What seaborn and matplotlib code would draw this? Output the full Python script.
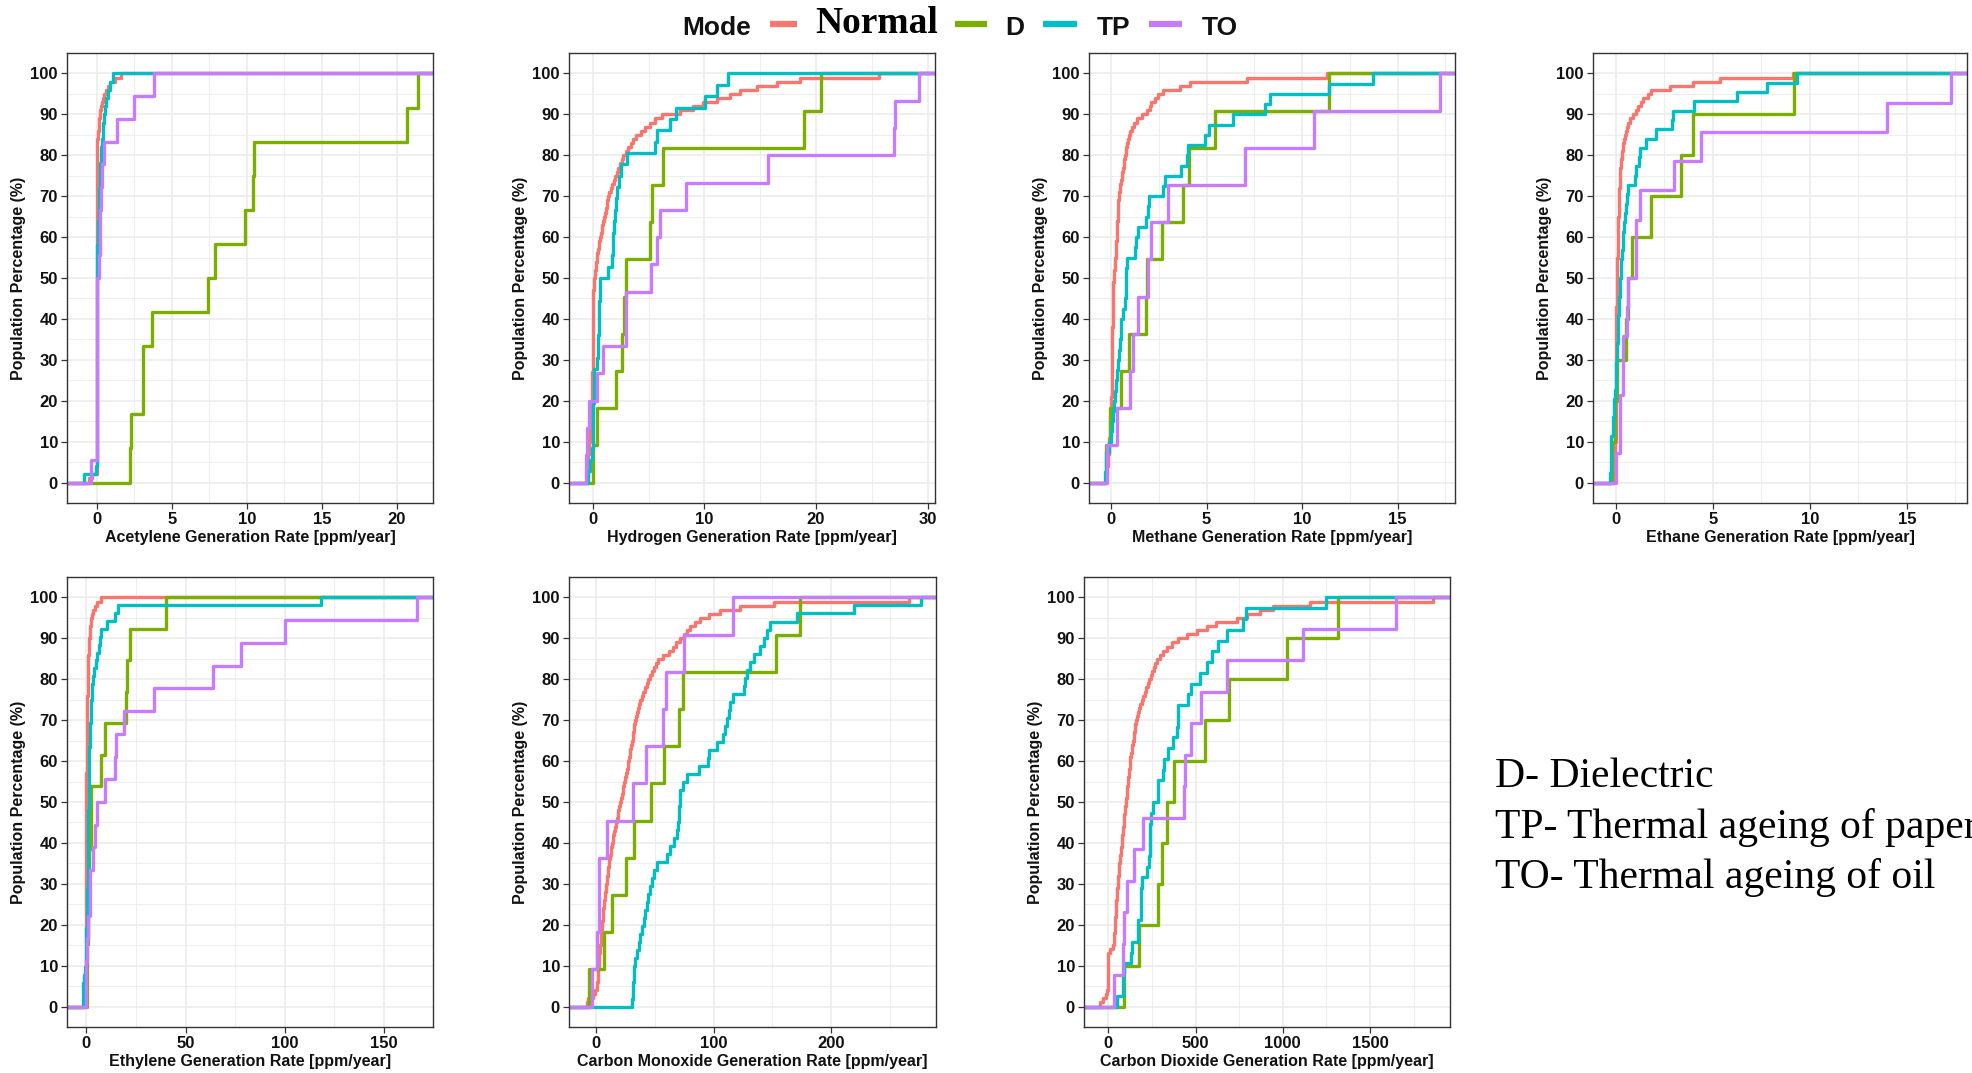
import numpy as np
import pandas as pd
import matplotlib
matplotlib.use("Agg")
import matplotlib.pyplot as plt
import seaborn as sns
from matplotlib.ticker import MultipleLocator, AutoMinorLocator
from matplotlib.lines import Line2D

# ---------------- data ----------------
modes = ["Normal", "D", "TP", "TO"]
mode_colors = ["#F8766D", "#7CAE00", "#00BFC4", "#C77CFF"]

gas_labels = [
    "Acetylene Generation Rate [ppm/year]",
    "Hydrogen Generation Rate [ppm/year]",
    "Methane Generation Rate [ppm/year]",
    "Ethane Generation Rate [ppm/year]",
    "Ethylene Generation Rate [ppm/year]",
    "Carbon Monoxide Generation Rate [ppm/year]",
    "Carbon Dioxide Generation Rate [ppm/year]",
]
x_tick_steps = [5, 10, 5, 5, 50, 100, 500]
x_limits = [(-1.98, 22.4), (-2.12, 30.65), (-1.15, 18.0), (-1.17, 18.1),
            (-9.7, 174.6), (-23.0, 289.0), (-139.0, 1958.0)]
y_ticks = [0, 10, 20, 30, 40, 50, 60, 70, 80, 90, 100]

# Acetylene
acetylene_normal = [-0.5, -0.3,
                    0.0, 0.0, 0.0, 0.0, 0.0, 0.0, 0.0, 0.0, 0.0, 0.0,
                    0.0, 0.0, 0.0, 0.0, 0.0, 0.0, 0.0, 0.0, 0.0, 0.0,
                    0.0, 0.0, 0.0, 0.0, 0.0, 0.0, 0.0, 0.0, 0.0, 0.0,
                    0.0, 0.0, 0.0, 0.0, 0.0, 0.0, 0.0, 0.0, 0.0, 0.0,
                    0.0, 0.0, 0.0, 0.0, 0.0, 0.0, 0.0, 0.0, 0.0, 0.0,
                    0.0, 0.0, 0.0, 0.0, 0.0, 0.0, 0.0, 0.0, 0.0, 0.0,
                    0.0, 0.0, 0.0, 0.0, 0.0, 0.0, 0.0, 0.0, 0.0, 0.0,
                    0.0, 0.0, 0.0, 0.0, 0.0, 0.0, 0.0, 0.0, 0.0, 0.0,
                    0.03, 0.05, 0.08, 0.1, 0.12, 0.15, 0.18, 0.2, 0.25, 0.3,
                    0.35, 0.4, 0.5, 0.6, 0.75, 0.9, 1.2, 1.6]
acetylene_d = [2.2, 2.3, 3.05, 3.05, 3.7, 7.4, 7.85, 9.9, 10.4, 10.5, 20.7, 21.4]
acetylene_tp = [-0.85, -0.05,
                0.0, 0.0, 0.0, 0.0, 0.0, 0.0, 0.0, 0.0, 0.0, 0.0,
                0.0, 0.0, 0.0, 0.0, 0.0, 0.0, 0.0, 0.0, 0.0, 0.0,
                0.0, 0.0, 0.0, 0.0, 0.0,
                0.03, 0.05, 0.06, 0.08, 0.1, 0.12, 0.14, 0.16, 0.18, 0.2,
                0.22, 0.25, 0.28, 0.3, 0.35, 0.4, 0.45, 0.5, 0.55, 0.65,
                0.75, 0.9, 1.1]
acetylene_to = [-0.35, 0.0, 0.0, 0.0, 0.0, 0.0, 0.0, 0.0, 0.0,
                0.15, 0.2, 0.22, 0.28, 0.38, 0.5, 1.33, 2.45, 3.8]

# Hydrogen
hydrogen_normal = [-0.55, -0.5, -0.48, -0.45, -0.42, -0.4, -0.38, -0.35, -0.33, -0.3,
                   -0.28, -0.26, -0.24, -0.22, -0.2, -0.18, -0.16, -0.14, -0.12, -0.1,
                   -0.09, -0.08, -0.06, -0.05, -0.04, -0.03, -0.02, 0.0,
                   0.05, 0.05, 0.05, 0.05, 0.05, 0.05, 0.05, 0.05, 0.05, 0.05,
                   0.05, 0.05, 0.05, 0.05, 0.05, 0.05, 0.05, 0.05, 0.05,
                   0.1, 0.13, 0.16, 0.2, 0.23, 0.27, 0.31, 0.36, 0.42, 0.48,
                   0.54, 0.6, 0.66, 0.73, 0.8, 0.86, 0.93, 1.0, 1.08, 1.16,
                   1.24, 1.32, 1.4, 1.5, 1.62, 1.74, 1.87, 2.0, 2.15, 2.3,
                   2.45, 2.6, 2.75, 2.95, 3.15, 3.4, 3.65, 3.9, 4.3, 4.7,
                   5.1, 5.6, 6.2, 7.8, 9.0, 9.9, 11.1, 12.3, 13.2, 14.7,
                   16.5, 18.6, 25.6]
hydrogen_d = [0.05, 0.35, 2.1, 2.6, 2.8, 3.0, 5.1, 5.3, 6.3, 18.9, 20.4]
hydrogen_tp = [-0.4, -0.2, -0.1, 0.0, 0.03, 0.05, 0.06, 0.08, 0.1, 0.12,
               0.4, 0.45, 0.5, 0.55, 0.58, 0.6, 0.63, 0.66, 1.4, 1.7,
               1.8, 1.85, 1.95, 2.0, 2.1, 2.2, 2.4, 2.5, 3.1, 5.6,
               5.8, 6.9, 7.5, 10.1, 11.1, 12.1]
hydrogen_to = [-0.6, -0.5, -0.3, 0.35, 0.9, 3.0, 3.0, 5.2, 5.8, 6.0,
               8.4, 15.7, 27.0, 27.05, 29.25]

# Methane
methane_normal = [-0.28, -0.25, -0.22, -0.2, -0.18, -0.16, -0.14, -0.12, -0.1, -0.09,
                  -0.08, -0.07, -0.06, -0.05, -0.04, -0.03, -0.02, -0.01, 0.0, 0.0,
                  0.02, 0.03, 0.03, 0.04, 0.04, 0.04, 0.05, 0.05, 0.05, 0.05,
                  0.06, 0.06, 0.06, 0.06, 0.07, 0.07, 0.07, 0.07, 0.08, 0.08,
                  0.08, 0.08, 0.09, 0.09, 0.09, 0.1, 0.11, 0.12, 0.13, 0.15,
                  0.16, 0.18, 0.19, 0.21, 0.22, 0.24, 0.25, 0.27, 0.28, 0.3,
                  0.31, 0.32, 0.33, 0.34, 0.35, 0.36, 0.37, 0.38, 0.39, 0.4,
                  0.43, 0.46, 0.49, 0.52, 0.56, 0.59, 0.62, 0.66, 0.7, 0.73,
                  0.77, 0.81, 0.85, 0.9, 0.96, 1.02, 1.08, 1.2, 1.34, 1.6,
                  1.87, 2.04, 2.1, 2.3, 2.48, 2.74, 3.6, 4.14, 7.1, 11.3]
methane_d = [-0.26, -0.05, 0.5, 0.96, 1.85, 1.9, 2.65, 3.75, 4.1, 5.45, 11.4]
methane_tp = [-0.3, -0.28, -0.25, -0.1, 0.0, 0.05, 0.1, 0.15, 0.2, 0.28,
              0.32, 0.36, 0.4, 0.45, 0.5, 0.55, 0.62, 0.72, 0.76, 0.78,
              0.8, 0.82, 1.25, 1.3, 1.42, 1.85, 1.92, 2.0, 2.7, 2.85,
              3.65, 4.0, 4.05, 4.9, 5.15, 6.4, 8.05, 8.3, 11.4, 13.7]
methane_to = [-0.2, 0.33, 1.0, 1.17, 1.43, 1.95, 2.08, 3.0, 7.0, 10.6, 17.2]

# Ethane
ethane_normal = [-0.14, -0.1, -0.08, -0.06, -0.05, -0.04, -0.03, -0.03, -0.02, -0.02,
                 -0.01, -0.01, 0.0, 0.0, 0.0, 0.0, 0.0, 0.0, 0.01, 0.01,
                 0.01, 0.01, 0.01, 0.02, 0.02, 0.02, 0.02, 0.02, 0.02, 0.02,
                 0.03, 0.03, 0.03, 0.03, 0.03, 0.03, 0.03, 0.03, 0.03, 0.03,
                 0.04, 0.04, 0.04, 0.05, 0.05, 0.05, 0.06, 0.06, 0.06, 0.07,
                 0.07, 0.08, 0.08, 0.09, 0.09, 0.1, 0.1, 0.11, 0.11, 0.12,
                 0.12, 0.13, 0.13, 0.14, 0.14, 0.15, 0.15, 0.16, 0.16, 0.17,
                 0.18, 0.19, 0.2, 0.21, 0.22, 0.23, 0.24, 0.26, 0.28, 0.3,
                 0.33, 0.36, 0.39, 0.42, 0.46, 0.52, 0.58, 0.64, 0.75, 0.9,
                 1.02, 1.15, 1.28, 1.41, 1.67, 1.84, 2.8, 4.0, 5.37, 9.15]
ethane_d = [-0.2, -0.05, 0.07, 0.52, 0.64, 0.86, 1.84, 3.36, 4.0, 9.2]
ethane_tp = [-0.27, -0.26, -0.25, -0.24, -0.23, -0.15, -0.12, -0.1, -0.08, -0.06,
             0.0, 0.02, 0.04, 0.06, 0.08, 0.1, 0.11, 0.12, 0.15, 0.18,
             0.2, 0.22, 0.25, 0.27, 0.3, 0.35, 0.4, 0.45, 0.5, 0.55,
             0.6, 0.64, 1.0, 1.03, 1.2, 1.24, 1.58, 2.1, 2.9, 2.93,
             4.05, 6.23, 7.8, 9.33]
ethane_to = [0.0, 0.2, 0.2, 0.38, 0.38, 0.58, 0.62, 1.03, 1.05, 1.24,
             3.0, 4.42, 14.0, 17.3]

# Ethylene
ethylene_normal = [-1.2, -1.0, -0.8, -0.7, -0.6, -0.5, -0.45, -0.4, -0.35, -0.3,
                   -0.28, -0.26, -0.24, -0.22, -0.2, -0.18, -0.16, -0.14, -0.12, -0.1,
                   -0.09, -0.08, -0.07, -0.06, -0.05, -0.05, -0.04, -0.04, -0.03, -0.03,
                   -0.02, -0.02, -0.01, -0.01, 0.0, 0.0, 0.0, 0.0, 0.0, 0.0,
                   0.0, 0.0, 0.0, 0.0, 0.0, 0.0, 0.01, 0.01, 0.02, 0.02,
                   0.03, 0.04, 0.05, 0.06, 0.07, 0.08, 0.1, 0.12, 0.14, 0.16,
                   0.18, 0.2, 0.22, 0.24, 0.26, 0.28, 0.3, 0.33, 0.36, 0.4,
                   0.43, 0.46, 0.5, 0.53, 0.56, 0.6, 0.63, 0.66, 0.7, 0.75,
                   0.8, 0.85, 0.9, 0.97, 1.04, 1.1, 1.16, 1.22, 1.35, 1.5,
                   1.65, 1.8, 2.0, 2.3, 2.6, 3.0, 3.4, 4.3, 5.4, 7.4]
ethylene_d = [0.3, 0.5, 0.7, 0.9, 1.2, 2.3, 2.4, 7.4, 9.6, 20.1, 20.3, 22.1, 40.1]
ethylene_tp = [-1.7, -1.6, -1.5, -1.2, -0.5, -0.3, -0.2, -0.1, 0.0, 0.0,
               0.2, 0.3, 0.4, 0.5, 0.6, 0.7, 0.75, 0.8, 0.85, 0.9,
               0.95, 1.0, 1.05, 1.1, 1.12, 1.15, 1.17, 1.2, 1.22, 1.3,
               1.4, 1.5, 1.6, 1.7, 1.9, 2.1, 2.3, 2.5, 2.6, 2.8,
               2.9, 3.3, 4.0, 4.8, 5.4, 6.4, 7.0, 7.6, 10.4, 14.6,
               15.8, 118.3]
ethylene_to = [-0.3, 0.0, 0.5, 0.7, 1.8, 2.0, 3.4, 4.5, 5.4, 9.6,
               14.6, 15.1, 18.8, 34.2, 63.6, 77.9, 100.2, 166.4]

# Carbon monoxide
co_normal = [-7.4, -6.5, -3.0, -0.8, 0.5, 1.0, 1.3, 1.6, 1.8, 2.0,
             2.3, 2.6, 2.9, 3.2, 3.5, 3.8, 4.0, 4.3, 4.5, 4.8,
             5.2, 5.5, 5.9, 6.3, 6.6, 7.0, 7.4, 7.7, 8.1, 8.5,
             9.0, 9.5, 9.9, 10.4, 10.9, 11.4, 11.9, 12.4, 12.8, 13.3,
             14.0, 14.7, 15.4, 16.1, 16.8, 17.6, 18.3, 19.0, 19.7, 20.4,
             21.1, 21.8, 22.5, 23.2, 23.9, 24.6, 25.3, 26.0, 26.8, 27.5,
             28.0, 28.6, 29.2, 29.8, 30.4, 31.0, 31.5, 32.0, 32.6, 33.2,
             34.0, 34.8, 35.6, 36.5, 37.4, 38.8, 40.2, 41.6, 43.0, 44.5,
             46.0, 47.6, 49.3, 51.1, 53.0, 57.0, 61.6, 65.0, 68.0, 71.5,
             74.5, 77.5, 80.0, 84.0, 88.5, 95.6, 105.5, 122.6, 150.9, 265.8]
co_d = [-5.7, 6.8, 13.3, 25.5, 32.3, 46.5, 57.9, 70.6, 73.8, 153.2, 173.6]
co_tp = [30.4, 31.0, 31.5, 32.0, 32.5, 33.2, 35.0, 36.5, 37.4, 39.0,
         40.5, 42.0, 43.0, 44.5, 46.0, 47.4, 49.5, 51.6, 60.1, 63.0,
         66.0, 68.7, 69.5, 70.2, 70.8, 71.2, 71.5, 74.0, 77.2, 87.1,
         95.0, 95.6, 102.7, 107.8, 110.0, 111.5, 112.6, 114.0, 116.0, 125.4,
         126.5, 128.2, 131.0, 134.0, 139.0, 142.4, 145.0, 147.5, 170.8, 219.0,
         276.3]
co_to = [-3.7, 0.6, 2.8, 2.9, 9.6, 31.2, 42.3, 57.3, 59.6, 74.9, 116.3]

# Carbon dioxide
co2_normal = [-48, -30, -15, -6, 0, 0, 0, 0, 0, 0,
              0, 0, 0, 8, 29, 31, 33, 35, 36, 38,
              40, 41, 43, 44, 46, 47, 49, 51, 52, 54,
              56, 58, 60, 62, 64, 66, 69, 71, 73, 76,
              78, 80, 83, 85, 88, 90, 93, 96, 98, 101,
              103, 106, 108, 110, 113, 115, 117, 119, 122, 124,
              127, 131, 134, 138, 141, 145, 148, 152, 155, 159,
              165, 171, 178, 184, 191, 200, 209, 217, 226, 235,
              243, 252, 260, 269, 277, 296, 315, 334, 367, 401,
              454, 507, 564, 620, 736, 793, 870, 946, 1156, 1863]
co2_d = [90, 178, 287, 306, 334, 378, 554, 694, 1022, 1319]
co2_tp = [48, 84, 86, 88, 130, 134, 168, 172, 185, 188,
          190, 191, 220, 235, 238, 240, 242, 243, 254, 283,
          287, 315, 319, 344, 373, 395, 398, 401, 459, 472,
          526, 564, 592, 631, 678, 774, 789, 1248]
co2_to = [34, 86, 88, 105, 149, 197, 436, 440, 472, 529, 682, 1114, 1649]

gas_series = [
    [acetylene_normal, acetylene_d, acetylene_tp, acetylene_to],
    [hydrogen_normal, hydrogen_d, hydrogen_tp, hydrogen_to],
    [methane_normal, methane_d, methane_tp, methane_to],
    [ethane_normal, ethane_d, ethane_tp, ethane_to],
    [ethylene_normal, ethylene_d, ethylene_tp, ethylene_to],
    [co_normal, co_d, co_tp, co_to],
    [co2_normal, co2_d, co2_tp, co2_to],
]

# ---------------- layout (figure pixels) ----------------
W, H = 1972, 1073
panel_px = [  # left, right, top, bottom
    (67, 433, 53, 503), (569, 935, 53, 503), (1089, 1455, 53, 503), (1593, 1967, 53, 503),
    (67, 433, 577, 1027), (569, 936, 577, 1027), (1084, 1450, 577, 1027),
]

sns.set_theme(style="white")
plt.rcParams["font.family"] = ["Liberation Sans", "DejaVu Sans"]

fig = plt.figure(figsize=(W / 100, H / 100), dpi=100)
fig.patch.set_facecolor("white")

border = "#333333"
grid_c = "#EBEBEB"

for i, (series, xlabel) in enumerate(zip(gas_series, gas_labels)):
    l, r, t, b = panel_px[i]
    ax = fig.add_axes([l / W, 1 - b / H, (r - l) / W, (b - t) / H])
    frames = [pd.DataFrame({"rate": vals, "Mode": m}) for m, vals in zip(modes, series)]
    df = pd.concat(frames, ignore_index=True)
    for m, c in zip(modes, mode_colors):
        sns.ecdfplot(data=df[df["Mode"] == m], x="rate", stat="percent",
                     color=c, linewidth=2.4, ax=ax)
    x0, x1 = x_limits[i]
    ax.set_xlim(x0, x1)
    ax.set_ylim(-5, 105)
    # ggplot-style padding of the ECDF to the panel edges
    for line in ax.lines:
        xd = np.asarray(line.get_xdata(), dtype=float)
        yd = np.asarray(line.get_ydata(), dtype=float)
        if np.isneginf(xd[0]):
            xd[0] = x0
        else:
            xd = np.r_[x0, xd]
            yd = np.r_[0.0, yd]
        xd = np.r_[xd, x1]
        yd = np.r_[yd, yd[-1]]
        line.set_data(xd, yd)
        line.set_solid_capstyle("butt")

    ax.xaxis.set_major_locator(MultipleLocator(x_tick_steps[i]))
    ax.xaxis.set_minor_locator(AutoMinorLocator(2))
    ax.set_yticks(y_ticks)
    ax.yaxis.set_minor_locator(MultipleLocator(5))
    ax.grid(which="major", color=grid_c, linewidth=1.1)
    ax.grid(which="minor", color=grid_c, linewidth=0.6)
    ax.set_axisbelow(True)
    ax.tick_params(which="major", length=4, width=0.9, color=border,
                   labelsize=12, pad=2.5, labelcolor="#111111",
                   bottom=True, left=True)
    ax.tick_params(which="minor", length=0)
    for lab in ax.get_xticklabels() + ax.get_yticklabels():
        lab.set_fontweight("bold")
    for sp in ax.spines.values():
        sp.set_visible(True)
        sp.set_color(border)
        sp.set_linewidth(1.0)
    ax.set_xlabel(xlabel, fontsize=11.5, fontweight="bold", labelpad=2, color="#111111")
    ax.set_ylabel("Population Percentage (%)", fontsize=11.5, fontweight="bold",
                  labelpad=3, color="#111111")

# ---------------- legend at top ----------------
def fx(px):
    return px / W

def fy(py):
    return 1 - py / H

fig.text(fx(682), fy(35), "Mode", fontsize=19, fontweight="bold", ha="left",
         va="baseline", color="#111111")
key_spans = [(770, 797), (955, 987), (1043, 1077), (1149, 1182)]
label_x = [815, 1005, 1097, 1202]
for (k0, k1), c in zip(key_spans, mode_colors):
    fig.add_artist(Line2D([fx(k0), fx(k1)], [fy(24), fy(24)], transform=fig.transFigure,
                          color=c, linewidth=4.5, solid_capstyle="butt"))
for m, lx in zip(modes, label_x):
    if m == "Normal":
        fig.text(fx(lx), fy(33), m, fontsize=27, fontweight="bold",
                 family=["Liberation Serif", "DejaVu Serif"], ha="left", va="baseline",
                 color="black")
    else:
        fig.text(fx(lx), fy(35), m, fontsize=19, fontweight="bold", ha="left",
                 va="baseline", color="#111111")

# ---------------- abbreviation notes ----------------
notes = ["D- Dielectric", "TP- Thermal ageing of paper", "TO- Thermal ageing of oil"]
note_baselines = [787, 838, 888]
for txt, by in zip(notes, note_baselines):
    fig.text(fx(1495), fy(by), txt, fontsize=30,
             family=["Liberation Serif", "DejaVu Serif"], ha="left", va="baseline",
             color="black")

fig.savefig("out.png", dpi=100, facecolor="white")
